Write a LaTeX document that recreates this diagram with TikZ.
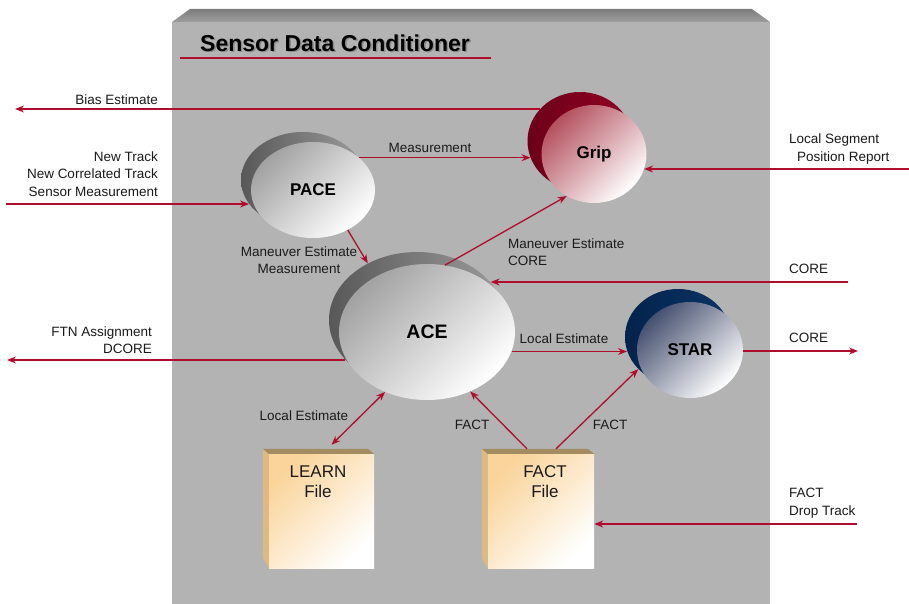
\documentclass[tikz,border=0pt]{standalone}
\usepackage{fontspec}
\setmainfont{Liberation Sans}
\usetikzlibrary{shapes.geometric,arrows.meta,calc}
\definecolor{lred}{HTML}{B00D2C}
\definecolor{txt}{HTML}{1A1A1A}
\definecolor{panel}{HTML}{B3B3B3}
\definecolor{paneltopA}{HTML}{7C7C7C}
\definecolor{paneltopB}{HTML}{9E9E9E}
\definecolor{bgd}{HTML}{585858}
\definecolor{bgl}{HTML}{9C9C9C}
\definecolor{frontgray}{HTML}{A2A2A2}
\definecolor{gripbackA}{HTML}{6C0018}
\definecolor{gripbackB}{HTML}{920024}
\definecolor{gripfront}{HTML}{B4505E}
\definecolor{starbackA}{HTML}{03234C}
\definecolor{starbackB}{HTML}{0B3466}
\definecolor{starfront}{HTML}{465070}
\definecolor{fileo}{HTML}{FAD49A}
\definecolor{fileside}{HTML}{DDB983}
\definecolor{filetop}{HTML}{A48C62}
\begin{document}
\begin{tikzpicture}[x=1pt,y=-1pt,
  arr/.style={draw=lred,line width=1.3pt,-{Stealth[length=9pt,width=7pt]}},
  dblarr/.style={draw=lred,line width=1.3pt,{Stealth[length=9pt,width=7pt]}-{Stealth[length=9pt,width=7pt]}},
  lbl/.style={font=\fontsize{13.5}{17.5}\selectfont,text=txt,inner sep=0pt},
  blob/.style={ellipse,inner sep=0pt,draw=none},
  backgray/.style={blob,left color=bgd,right color=bgl},
  frontgray/.style={blob,top color=frontgray,bottom color=white,shading angle=45,font=\bfseries\fontsize{17}{20}\selectfont},
  filebox/.style={rectangle,inner sep=0pt,draw=none,minimum height=114,top color=fileo,bottom color=white,shading angle=45},
  filetxt/.style={font=\fontsize{17}{20}\selectfont,text=txt,inner sep=0pt,align=center}
]
\useasboundingbox (0,0) rectangle (909,604);
\fill[white] (0,0) rectangle (909,604);
% panel
\fill[panel] (172,22) rectangle (770,604);
\shade[top color=paneltopA,bottom color=paneltopB] (172,22) -- (190,9) -- (752,9) -- (770,22) -- cycle;
% title
\node[font=\bfseries\fontsize{23}{26}\selectfont,text=black!45,anchor=west,inner sep=0pt] (titleshadow) at (201.5,44.5) {Sensor Data Conditioner};
\node[font=\bfseries\fontsize{23}{26}\selectfont,text=black,anchor=west,inner sep=0pt] (title) at (200,43) {Sensor Data Conditioner};
\draw[lred,line width=1.3pt] (180,58) -- (491,58);

% back shapes
\node[backgray,minimum width=124,minimum height=96] (paceb) at (303,180) {};
\node[blob,left color=gripbackA,right color=gripbackB,minimum width=105,minimum height=98] (gripb) at (580,141) {};
\node[backgray,minimum width=176,minimum height=136] (aceb) at (417,320) {};
\node[blob,left color=starbackA,right color=starbackB,minimum width=106,minimum height=96] (starb) at (678,337) {};
% front shapes
\node[frontgray,minimum width=124,minimum height=96] (pace) at (313,190) {PACE};
\node[blob,top color=gripfront,bottom color=white,shading angle=45,font=\bfseries\fontsize{17}{20}\selectfont,minimum width=105,minimum height=98] (grip) at (594,154) {Grip};
\node[frontgray,minimum width=176,minimum height=136,font=\bfseries\fontsize{19.5}{22}\selectfont] (ace) at (427,332) {ACE};
\node[blob,top color=starfront,bottom color=white,shading angle=45,font=\bfseries\fontsize{17}{20}\selectfont,minimum width=106,minimum height=96] (star) at (690,350) {STAR};

% files
\node[filebox,minimum width=105] (learn) at (321.5,511) {};
\fill[fileside] (learn.north west) -- ++(-6,-5) -- ++(0,109) -- (learn.south west) -- cycle;
\fill[filetop] (learn.north west) -- ++(-6,-5) -- ++(105,0) -- (learn.north east) -- cycle;
\node[filetxt] (learntxt) at (318,482) {LEARN\\File};
\node[filebox,minimum width=106] (fact) at (541,511) {};
\fill[fileside] (fact.north west) -- ++(-6,-5) -- ++(0,109) -- (fact.south west) -- cycle;
\fill[filetop] (fact.north west) -- ++(-6,-5) -- ++(106,0) -- (fact.north east) -- cycle;
\node[filetxt] (facttxt) at (545,482) {FACT\\File};

% free ends
\coordinate (biasend) at (15,109);
\coordinate (ntstart) at (6,204);
\coordinate (lsstart) at (909,169);
\coordinate (corein) at (848,282);
\coordinate (ftnend) at (7,360);
\coordinate (coreout) at (858,351);
\coordinate (dropstart) at (857,524);

% connectors
\draw[arr] (biasend -| gripb.141) -- (biasend);
\draw[arr] (ntstart) -- (ntstart -| paceb.204);
\draw[arr] (pace.35) -- (pace.35 -| gripb.199);
\draw[arr] (lsstart) -- (lsstart -| grip.-17);
\draw[arr] (pace.-49) -- (aceb.131);
\draw[arr] (ace.75) -- (grip.237);
\draw[arr] (corein) -- (corein -| aceb.27);
\draw[arr] (ftnend -| aceb.209) -- (ftnend);
\draw[arr] (ace.-13) -- (ace.-13 -| starb.195);
\draw[arr] (coreout -| star.east) -- (coreout);
\draw[dblarr] (ace.235) -- ([xshift=10pt,yshift=9pt]learn.north);
\draw[arr] ([xshift=-14pt,yshift=5pt]fact.north) -- (ace.-54);
\draw[arr] ([xshift=15pt,yshift=5pt]fact.north) -- (starb.219);
\draw[arr] (dropstart) -- (dropstart -| fact.east);

% labels
\node[lbl,anchor=east] (lbias) at (158,100) {Bias Estimate};
\node[lbl,anchor=east,align=right] (lnew) at (158,174) {New Track\\New Correlated Track\\Sensor Measurement};
\node[lbl,anchor=east,align=right] (lftn) at (152,340) {FTN Assignment\\DCORE};
\node[lbl] (lmeas) at (430,148) {Measurement};
\node[lbl,align=center] (lman1) at (299,260) {Maneuver Estimate\\Measurement};
\node[lbl,anchor=west,align=left] (lman2) at (508,252) {Maneuver Estimate\\CORE};
\node[lbl,anchor=west,align=left] (lloc) at (789,149) {Local Segment\\\hspace*{8pt}Position Report};
\node[lbl,anchor=west] (lcore1) at (789,269) {CORE};
\node[lbl,anchor=west] (lcore2) at (789,338) {CORE};
\node[lbl] (lle1) at (564,339) {Local Estimate};
\node[lbl] (lle2) at (304,416) {Local Estimate};
\node[lbl] (lfact1) at (472,425) {FACT};
\node[lbl] (lfact2) at (610,425) {FACT};
\node[lbl,anchor=west,align=left] (ldrop) at (789,503) {FACT\\Drop Track};
\end{tikzpicture}
\end{document}
